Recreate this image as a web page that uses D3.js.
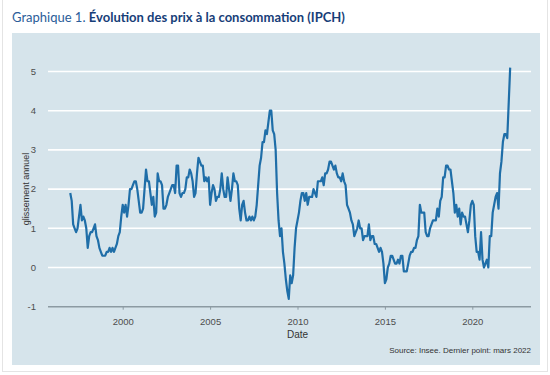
<!DOCTYPE html>
<html>
<head>
<meta charset="utf-8">
<script src="https://cdn.jsdelivr.net/npm/d3@7"></script>
<style>
  body { margin: 0; background: #fff; }
  svg { display: block; }
</style>
</head>
<body>
<div id="chart"></div>
<script>
// Monthly HICP year-on-year rate, France, from Jan 1997 to Mar 2022
const startYear = 1997;
const ipch = [
  1.9, 1.7, 1.1, 1.0, 0.9, 1.0, 1.3, 1.6, 1.2, 1.3, 1.2, 1.0,   // 1997
  0.5, 0.8, 0.9, 0.9, 1.0, 1.1, 0.8, 0.7, 0.5, 0.4, 0.3, 0.3,   // 1998
  0.3, 0.4, 0.4, 0.5, 0.4, 0.5, 0.4, 0.5, 0.6, 0.8, 0.9, 1.3,   // 1999
  1.6, 1.4, 1.6, 1.3, 1.6, 2.0, 2.0, 2.1, 2.2, 2.2, 2.0, 1.7,   // 2000
  1.4, 1.4, 1.5, 2.0, 2.5, 2.2, 2.2, 1.9, 1.6, 1.8, 1.3, 1.4,   // 2001
  2.4, 2.2, 2.2, 2.1, 1.5, 1.5, 1.6, 1.8, 1.9, 2.0, 2.1, 2.1,   // 2002
  1.9, 2.6, 2.6, 1.9, 1.8, 1.9, 1.9, 2.0, 2.3, 2.3, 2.5, 2.4,   // 2003
  2.2, 1.8, 1.9, 2.4, 2.8, 2.7, 2.6, 2.6, 2.2, 2.3, 2.2, 2.3,   // 2004
  1.6, 1.9, 2.1, 2.0, 1.7, 1.8, 1.8, 2.0, 2.4, 2.0, 1.8, 1.8,   // 2005
  2.3, 2.0, 1.7, 2.0, 2.4, 2.2, 2.2, 2.1, 1.5, 1.2, 1.6, 1.7,   // 2006
  1.4, 1.2, 1.2, 1.3, 1.2, 1.3, 1.2, 1.3, 1.6, 2.1, 2.6, 2.8,   // 2007
  3.2, 3.2, 3.5, 3.4, 3.7, 4.0, 4.0, 3.5, 3.4, 3.0, 1.9, 1.2,   // 2008
  0.8, 1.0, 0.4, 0.1, -0.3, -0.6, -0.8, -0.2, -0.4, -0.2, 0.5, 1.0, // 2009
  1.2, 1.4, 1.7, 1.9, 1.9, 1.7, 1.9, 1.6, 1.8, 1.8, 1.8, 2.0,   // 2010
  1.9, 1.8, 2.2, 2.2, 2.2, 2.3, 2.1, 2.4, 2.4, 2.5, 2.7, 2.7,   // 2011
  2.6, 2.5, 2.6, 2.4, 2.3, 2.3, 2.2, 2.4, 2.2, 2.1, 1.6, 1.5,   // 2012
  1.4, 1.2, 1.1, 0.8, 0.9, 1.0, 1.2, 1.0, 1.0, 0.7, 0.8, 0.8,   // 2013
  0.8, 1.1, 0.7, 0.8, 0.8, 0.6, 0.6, 0.5, 0.4, 0.5, 0.4, 0.1,   // 2014
  -0.4, -0.3, 0.0, 0.1, 0.3, 0.3, 0.2, 0.1, 0.1, 0.2, 0.1, 0.3, // 2015
  0.3, -0.1, -0.1, -0.1, 0.1, 0.3, 0.4, 0.4, 0.5, 0.5, 0.7, 0.8, // 2016
  1.6, 1.4, 1.4, 1.4, 0.9, 0.8, 0.8, 1.0, 1.1, 1.2, 1.2, 1.2,   // 2017
  1.5, 1.3, 1.7, 1.8, 2.3, 2.3, 2.6, 2.6, 2.5, 2.5, 2.2, 1.9,   // 2018
  1.4, 1.6, 1.3, 1.5, 1.1, 1.4, 1.3, 1.3, 1.1, 0.9, 1.2, 1.6,   // 2019
  1.7, 1.6, 0.8, 0.4, 0.4, 0.2, 0.9, 0.2, 0.0, 0.1, 0.2, 0.0,   // 2020
  0.8, 0.8, 1.4, 1.6, 1.8, 1.9, 1.5, 2.4, 2.7, 3.2, 3.4, 3.4,   // 2021
  3.3, 4.2, 5.1                                                 // 2022
];
const xTicks = [2000, 2005, 2010, 2015, 2020];
const yTicks = [-1, 0, 1, 2, 3, 4, 5];

const W = 550, H = 375;
const svg = d3.select("#chart").append("svg")
  .attr("width", W)
  .attr("height", H);

// outer frame
svg.append("rect")
  .attr("x", 2.5).attr("y", -2)
  .attr("width", W - 5).attr("height", H - 1.5)
  .attr("fill", "#fff")
  .attr("stroke", "#e4e4e4");

// title
const title = svg.append("text")
  .attr("x", 12).attr("y", 22)
  .style("font-family", "Lato, 'Open Sans', sans-serif")
  .style("font-size", "13px");
title.append("tspan").attr("fill", "#2a5d99").text("Graphique 1. ");
title.append("tspan").attr("fill", "#173e78").attr("font-weight", "bold")
  .text("Évolution des prix à la consommation (IPCH)");

// panel
svg.append("rect")
  .attr("x", 12).attr("y", 33)
  .attr("width", 528).attr("height", 332)
  .attr("fill", "#d6e4eb");

const x = d3.scaleLinear().domain([2000, 2020]).range([122.7, 472.3]);
const y = d3.scaleLinear().domain([-1, 5]).range([306.7, 71.5]);
const x0 = 48, x1 = 531;

// gridlines
svg.append("g")
  .selectAll("line")
  .data(yTicks.filter(d => d > -1))
  .join("line")
    .attr("x1", x0).attr("x2", x1)
    .attr("y1", d => y(d)).attr("y2", d => y(d))
    .attr("stroke", "#fff")
    .attr("stroke-width", 1.6);

// y tick labels
svg.append("g")
  .selectAll("text")
  .data(yTicks)
  .join("text")
    .attr("x", 36).attr("y", d => y(d))
    .attr("dy", "0.35em")
    .attr("text-anchor", "end")
    .style("font-family", "'Liberation Sans', Arial, sans-serif")
    .style("font-size", "9.5px")
    .attr("fill", "#4d4d4d")
    .text(d => d);

// x axis along -1
const xAxis = svg.append("g")
  .attr("transform", `translate(0, ${y(-1)})`)
  .call(d3.axisBottom(x).tickValues(xTicks).tickFormat(d3.format("d")).tickSize(3).tickPadding(9));
xAxis.select(".domain").remove();
xAxis.append("line")
  .attr("x1", x0).attr("x2", x1)
  .attr("stroke", "#8c9aa2").attr("stroke-width", 1.6);
xAxis.selectAll(".tick line").attr("stroke", "#8c9aa2");
xAxis.selectAll(".tick text")
  .style("font-family", "'Liberation Sans', Arial, sans-serif")
  .style("font-size", "9.5px")
  .attr("fill", "#4d4d4d");

// axis titles
svg.append("text")
  .attr("x", x(2010)).attr("y", 338)
  .attr("text-anchor", "middle")
  .style("font-family", "'Liberation Sans', Arial, sans-serif")
  .style("font-size", "10px")
  .attr("fill", "#333")
  .text("Date");

svg.append("text")
  .attr("transform", `translate(29, ${y(2)}) rotate(-90)`)
  .attr("text-anchor", "middle")
  .style("font-family", "'Liberation Sans', Arial, sans-serif")
  .style("font-size", "9px")
  .attr("fill", "#333")
  .text("glissement annuel");

// source
svg.append("text")
  .attr("x", 531).attr("y", 353)
  .attr("text-anchor", "end")
  .style("font-family", "'Liberation Sans', Arial, sans-serif")
  .style("font-size", "8px")
  .attr("fill", "#333")
  .text("Source: Insee. Dernier point: mars 2022");

// the series
const line = d3.line()
  .x((d, i) => x(startYear + i / 12))
  .y(d => y(d));

svg.append("path")
  .datum(ipch)
  .attr("d", line)
  .attr("fill", "none")
  .attr("stroke", "#1f6ea8")
  .attr("stroke-width", 2.2)
  .attr("stroke-linejoin", "round");
</script>
</body>
</html>
